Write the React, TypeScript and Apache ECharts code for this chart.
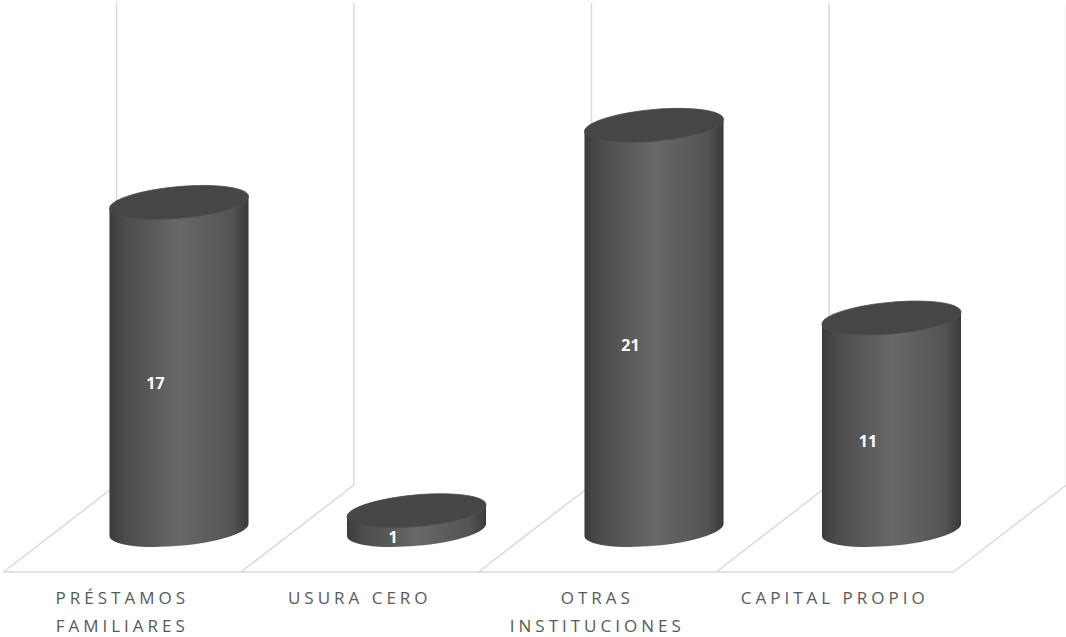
import React, { useEffect, useRef } from "react";
import * as echarts from "echarts";

const categories = ["PRÉSTAMOS\nFAMILIARES", "USURA CERO", "OTRAS\nINSTITUCIONES", "CAPITAL PROPIO"];
const values = [17, 1, 21, 11];

const LINE_COLOR = "#d9d9d9";
const AXIS_TEXT = "#595959";
const FONT = '"Open Sans", sans-serif';

// Tilted ellipse used for the caps of each cylinder
const RX = 69.8;
const RY = 15.8;
const TILT = (-5.2 * Math.PI) / 180;
// Parameter of the ellipse where its outline runs vertically on the right
const T_RIGHT = Math.atan2(-RY * Math.sin(TILT), RX * Math.cos(TILT));

// Receding floor: offset between the front edge and the back wall
const DEPTH_X = 113;
const DEPTH_Y = 87;

// Data label sits left of the axis of the cylinder, a little below its middle
const LABEL_DX = -23.5;
const LABEL_DY = 17;

function ellipsePoint(cx: number, cy: number, t: number) {
  const u = RX * Math.cos(t);
  const v = RY * Math.sin(t);
  return [cx + u * Math.cos(TILT) - v * Math.sin(TILT), cy + u * Math.sin(TILT) + v * Math.cos(TILT)];
}

function ellipseTangent(t: number) {
  const u = -RX * Math.sin(t);
  const v = RY * Math.cos(t);
  return [u * Math.cos(TILT) - v * Math.sin(TILT), u * Math.sin(TILT) + v * Math.cos(TILT)];
}

// Cubic segments following the ellipse from parameter t0 to t1
function ellipseArc(cx: number, cy: number, t0: number, t1: number) {
  const steps = 4;
  const dt = (t1 - t0) / steps;
  const k = (4 / 3) * Math.tan(dt / 4);
  let d = "";
  for (let i = 0; i < steps; i++) {
    const a = t0 + i * dt;
    const b = a + dt;
    const p0 = ellipsePoint(cx, cy, a);
    const p1 = ellipsePoint(cx, cy, b);
    const d0 = ellipseTangent(a);
    const d1 = ellipseTangent(b);
    d += ` C ${p0[0] + k * d0[0]} ${p0[1] + k * d0[1]} ${p1[0] - k * d1[0]} ${p1[1] - k * d1[1]} ${p1[0]} ${p1[1]}`;
  }
  return d;
}

function renderCylinder(params: any, api: any) {
  const [cx, topY] = api.coord([api.value(0), api.value(1)]);
  const [, baseY] = api.coord([api.value(0), 0]);
  const tLeft = T_RIGHT + Math.PI;
  const topLeft = ellipsePoint(cx, topY, tLeft);
  const topRight = ellipsePoint(cx, topY, T_RIGHT);
  const baseLeft = ellipsePoint(cx, baseY, tLeft);
  const body =
    `M ${topLeft[0]} ${topLeft[1]} L ${baseLeft[0]} ${baseLeft[1]}` +
    ellipseArc(cx, baseY, tLeft, T_RIGHT) +
    ` L ${topRight[0]} ${topRight[1]} Z`;
  const cap =
    `M ${topRight[0]} ${topRight[1]}` +
    ellipseArc(cx, topY, T_RIGHT, T_RIGHT + Math.PI * 2) +
    " Z";
  return {
    type: "group",
    children: [
      {
        type: "path",
        shape: { pathData: body },
        style: {
          fill: new echarts.graphic.LinearGradient(0, 0, 1, 0, [
            { offset: 0, color: "#3c3c3c" },
            { offset: 0.12, color: "#4c4c4c" },
            { offset: 0.5, color: "#686868" },
            { offset: 0.88, color: "#545454" },
            { offset: 1, color: "#3a3a3a" },
          ]),
        },
      },
      {
        type: "path",
        shape: { pathData: cap },
        style: { fill: "#464646", stroke: "#4e4e4e", lineWidth: 0.8 },
      },
      {
        type: "text",
        x: cx + LABEL_DX,
        y: (topY + baseY) / 2 + LABEL_DY,
        style: {
          text: String(api.value(1)),
          fill: "#ffffff",
          font: `bold 16px ${FONT}`,
          align: "center",
          verticalAlign: "middle",
        },
      },
    ],
  };
}

function renderFloorLine(params: any, api: any) {
  const band = api.size([1, 0])[0];
  const [center, frontY] = api.coord([api.value(0), 0]);
  const edges = [center - band / 2];
  if (params.dataIndex === categories.length - 1) edges.push(center + band / 2);
  return {
    type: "group",
    children: edges.map((x) => ({
      type: "polyline",
      shape: {
        points: [
          [x, frontY],
          [x + DEPTH_X, frontY - DEPTH_Y],
          [x + DEPTH_X, params.coordSys.y + 3],
        ],
      },
      style: { fill: "none", stroke: LINE_COLOR, lineWidth: 1.5 },
    })),
  };
}

export default function App() {
  const ref = useRef<HTMLDivElement>(null);

  useEffect(() => {
    const chart = echarts.init(ref.current!, undefined, { renderer: "svg" });
    chart.setOption({
      animation: false,
      backgroundColor: "#ffffff",
      grid: [
        { left: 60.25, width: 950, top: 48.25, height: 481.75, outerBoundsMode: "none" },
        { left: 3.5, width: 950, top: 0, height: 572, outerBoundsMode: "none" },
      ],
      xAxis: [
        {
          type: "category",
          gridIndex: 0,
          data: categories,
          axisLine: { show: false },
          axisTick: { show: false },
          axisLabel: { show: false },
        },
        {
          type: "category",
          gridIndex: 1,
          data: categories,
          axisLine: { show: true, lineStyle: { color: LINE_COLOR, width: 1.5 } },
          axisTick: { show: false },
          axisLabel: {
            interval: 0,
            margin: 11,
            color: AXIS_TEXT,
            fontFamily: FONT,
            fontSize: 17,
            lineHeight: 28,
          },
        },
      ],
      yAxis: [
        { type: "value", gridIndex: 0, min: 0, max: 25, show: false },
        { type: "value", gridIndex: 1, min: 0, max: 1, show: false },
      ],
      series: [
        {
          type: "custom",
          name: "Suelo",
          xAxisIndex: 1,
          yAxisIndex: 1,
          z: 1,
          silent: true,
          clip: false,
          renderItem: renderFloorLine,
          encode: { x: 0, y: 1 },
          data: categories.map((_, i) => [i, 0]),
        },
        {
          type: "custom",
          name: "Financiamiento",
          xAxisIndex: 0,
          yAxisIndex: 0,
          z: 2,
          clip: false,
          renderItem: renderCylinder,
          encode: { x: 0, y: 1 },
          data: values.map((v, i) => [i, v]),
        },
      ],
    });
    return () => chart.dispose();
  }, []);

  return (
    <>
      <style>{`html,body{margin:0;padding:0;background:#fff}
.grafico text[fill="${AXIS_TEXT}"]{letter-spacing:4px}`}</style>
      <div className="grafico" ref={ref} style={{ width: 1066, height: 637 }} />
    </>
  );
}
